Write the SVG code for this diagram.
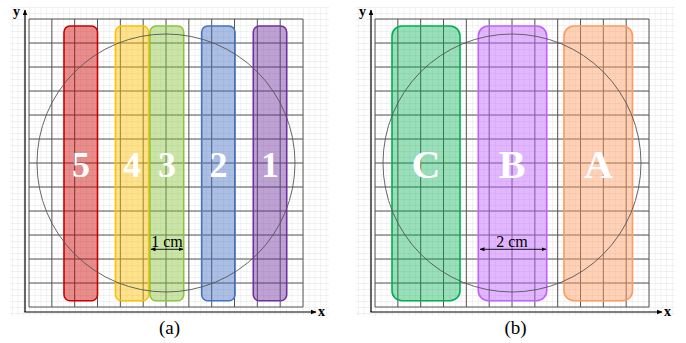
<svg xmlns="http://www.w3.org/2000/svg" xmlns:xlink="http://www.w3.org/1999/xlink" width="686" height="343" viewBox="0 0 686 343">
<style>
.major{fill:none;stroke:#555;stroke-width:1}
.axis{fill:none;stroke:#000;stroke-width:1.2}
.circ{fill:none;stroke:#555;stroke-width:0.9}
.bar{stroke-width:1.6}
.big{font-family:"Liberation Serif",serif;font-weight:bold;font-size:36px;fill:#fff;text-anchor:middle}
.let{font-size:40px}
.ax{font-family:"Liberation Serif",serif;font-weight:bold;font-size:14px;fill:#000}
.dim{font-family:"Liberation Serif",serif;font-size:16px;fill:#000;text-anchor:middle}
.cap{font-family:"Liberation Serif",serif;font-size:19px;fill:#000;text-anchor:middle}
.dl{stroke:#000;stroke-width:0.9;fill:none}
</style>
<defs>
<pattern id="fine" patternUnits="userSpaceOnUse" x="29" y="19" width="5.7083" height="6">
<path d="M0 0V6M0 0H5.7083" stroke="#e4e4e4" stroke-width="1" fill="none"/>
</pattern>
<marker id="ah" viewBox="0 0 10 10" refX="9" refY="5" markerWidth="6" markerHeight="6" markerUnits="userSpaceOnUse" orient="auto">
<path d="M0 1L10 5L0 9z" fill="#000"/>
</marker>
<marker id="dh" viewBox="0 0 10 10" refX="9" refY="5" markerWidth="5" markerHeight="5" markerUnits="userSpaceOnUse" orient="auto-start-reverse">
<path d="M0 1L10 5L0 9z" fill="#000"/>
</marker>
<g id="base">
<rect x="10" y="7" width="319" height="309" fill="url(#fine)"/>
<path class="major" d="M29 19V307M51.83 19V307M74.67 19V307M97.5 19V307M120.33 19V307M143.17 19V307M166 19V307M188.83 19V307M211.67 19V307M234.5 19V307M257.33 19V307M280.17 19V307M303 19V307M29 19H303M29 43H303M29 67H303M29 91H303M29 115H303M29 139H303M29 163H303M29 187H303M29 211H303M29 235H303M29 259H303M29 283H303M29 307H303"/>
<path class="axis" d="M25 312V10" marker-end="url(#ah)"/>
<path class="axis" d="M24.4 312H316" marker-end="url(#ah)"/>
</g>
</defs>

<g id="panel-a-base">
<use xlink:href="#base"/>
<text class="ax" x="13" y="16">y</text>
<text class="ax" x="318" y="316">x</text>
</g>
<g id="panel-b-base">
<use xlink:href="#base" transform="translate(346,0)"/>
<text class="ax" x="359" y="16">y</text>
<text class="ax" x="664" y="316">x</text>
</g>

<g id="bar5">
<rect class="bar" x="64" y="26" width="33.5" height="274.7" rx="6" fill="#cc0000" fill-opacity="0.45" stroke="#cc0000"/>
<text class="big" x="81" y="177">5</text>
</g>
<g id="bar4">
<rect class="bar" x="115.5" y="26" width="33.2" height="274.7" rx="6" fill="#ffc000" fill-opacity="0.45" stroke="#ffc000"/>
<text class="big" x="132" y="177">4</text>
</g>
<g id="bar3">
<rect class="bar" x="150" y="26" width="33.7" height="274.7" rx="6" fill="#8cc63f" fill-opacity="0.45" stroke="#8cc63f"/>
<text class="big" x="167" y="177">3</text>
</g>
<g id="bar2">
<rect class="bar" x="201.7" y="26" width="33.3" height="274.7" rx="6" fill="#4472c4" fill-opacity="0.45" stroke="#4472c4"/>
<text class="big" x="218.5" y="177">2</text>
</g>
<g id="bar1">
<rect class="bar" x="253.3" y="26" width="33.4" height="274.7" rx="6" fill="#7030a0" fill-opacity="0.45" stroke="#7030a0"/>
<text class="big" x="270" y="177">1</text>
</g>

<g id="barC">
<rect class="bar" x="392" y="26" width="68" height="274.7" rx="10" fill="#00b050" fill-opacity="0.4" stroke="#00b050"/>
<text class="big let" x="426" y="177.5">C</text>
</g>
<g id="barB">
<rect class="bar" x="478.3" y="26" width="68.4" height="274.7" rx="10" fill="#c060ff" fill-opacity="0.45" stroke="#c060ff"/>
<text class="big let" x="512" y="177.5">B</text>
</g>
<g id="barA">
<rect class="bar" x="564" y="26" width="68.5" height="274.7" rx="10" fill="#ff9a60" fill-opacity="0.45" stroke="#ff9a60"/>
<text class="big let" x="598.5" y="177.5">A</text>
</g>

<g id="circles">
<circle class="circ" cx="166" cy="163" r="129"/>
<circle class="circ" cx="512" cy="163" r="129"/>
</g>

<g id="connectors">
<path class="dl" d="M151 249.3H183" marker-start="url(#dh)" marker-end="url(#dh)"/>
<path class="dl" d="M480 249.3H546" marker-start="url(#dh)" marker-end="url(#dh)"/>
</g>
<g id="dim-labels">
<text class="dim" x="167" y="246.5">1 cm</text>
<text class="dim" x="512" y="246.5">2 cm</text>
</g>

<g id="captions">
<text class="cap" x="169.5" y="334">(a)</text>
<text class="cap" x="515.5" y="334">(b)</text>
</g>
</svg>
